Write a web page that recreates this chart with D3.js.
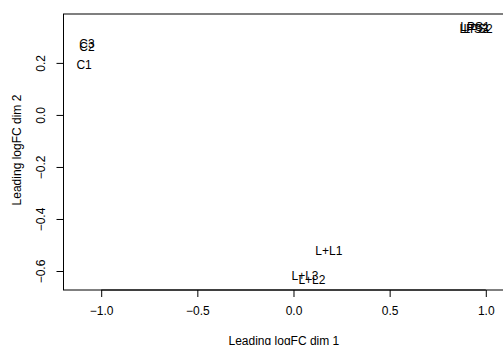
<!DOCTYPE html>
<html>
<head>
<meta charset="utf-8">
<script src="https://cdn.jsdelivr.net/npm/d3@7"></script>
<style>
  body { margin: 0; background: #fff; }
  svg text { font-family: "Liberation Sans", Arial, sans-serif; }
</style>
</head>
<body>
<div class="chart"></div>
<script>
// sample labels and their MDS coordinates
const samples = ["C1", "C2", "C3", "L+L1", "L+L2", "L+L3", "LPS1", "LPS2", "LPS3"];
const dim1 = [-1.089, -1.074, -1.074, 0.184, 0.096, 0.060, 0.944, 0.960, 0.939];
const dim2 = [0.192, 0.262, 0.273, -0.523, -0.635, -0.619, 0.340, 0.330, 0.330];
const xTicks = [-1.0, -0.5, 0.0, 0.5, 1.0];
const yTicks = [-0.6, -0.4, -0.2, 0.0, 0.2];

const width = 503, height = 345;
const plotLeft = 63.5, plotTop = 14, plotBottom = 290;

let svg = d3.select(".chart")
  .append("svg")
  .attr("width", width)
  .attr("height", height);

// scales: plot region runs past the right edge of the image
let x = d3.scaleLinear().domain([-1.196, 1.2]).range([plotLeft, plotLeft + 2.396 * 192.3]);
let y = d3.scaleLinear().domain([-0.673, 0.388]).range([plotBottom, plotTop]);

// box
svg.append("rect")
  .attr("x", plotLeft)
  .attr("y", plotTop)
  .attr("width", x(1.2) - plotLeft)
  .attr("height", plotBottom - plotTop)
  .attr("fill", "none")
  .attr("stroke", "#000")
  .attr("stroke-width", 1);

// x axis
let xAxis = d3.axisBottom(x)
  .tickValues(xTicks)
  .tickSize(7)
  .tickPadding(9)
  .tickFormat(d3.format(".1f"));

let gx = svg.append("g")
  .attr("transform", `translate(0,${plotBottom})`)
  .call(xAxis);
gx.select(".domain").attr("d", `M${x(-1.0)},0H${x(1.0)}`);
gx.selectAll("text").attr("font-size", 12).attr("fill", "#000")
  .attr("font-family", "Liberation Sans, Arial, sans-serif");

// y axis
let yAxis = d3.axisLeft(y)
  .tickValues(yTicks)
  .tickSize(7)
  .tickFormat(d3.format(".1f"));

let gy = svg.append("g")
  .attr("transform", `translate(${plotLeft},0)`)
  .call(yAxis);
gy.select(".domain").attr("d", `M0,${y(-0.6)}V${y(0.2)}`);
gy.selectAll("text")
  .attr("font-size", 12)
  .attr("fill", "#000")
  .attr("font-family", "Liberation Sans, Arial, sans-serif")
  .attr("x", null).attr("dy", null)
  .attr("text-anchor", "middle")
  .attr("transform", "translate(-19,0) rotate(-90)");

// axis titles
svg.append("text")
  .attr("x", x(-0.05))
  .attr("y", 345)
  .attr("text-anchor", "middle")
  .attr("font-size", 12)
  .text("Leading logFC dim 1");

svg.append("text")
  .attr("transform", `translate(21,${y(-0.135)}) rotate(-90)`)
  .attr("text-anchor", "middle")
  .attr("font-size", 12)
  .text("Leading logFC dim 2");

// point labels
svg.append("g")
  .selectAll("text")
  .data(samples)
  .enter().append("text")
  .attr("x", (d, i) => x(dim1[i]))
  .attr("y", (d, i) => y(dim2[i]))
  .attr("dy", "0.35em")
  .attr("text-anchor", "middle")
  .attr("font-size", 12)
  .attr("fill", "#000")
  .text(d => d);
</script>
</body>
</html>
